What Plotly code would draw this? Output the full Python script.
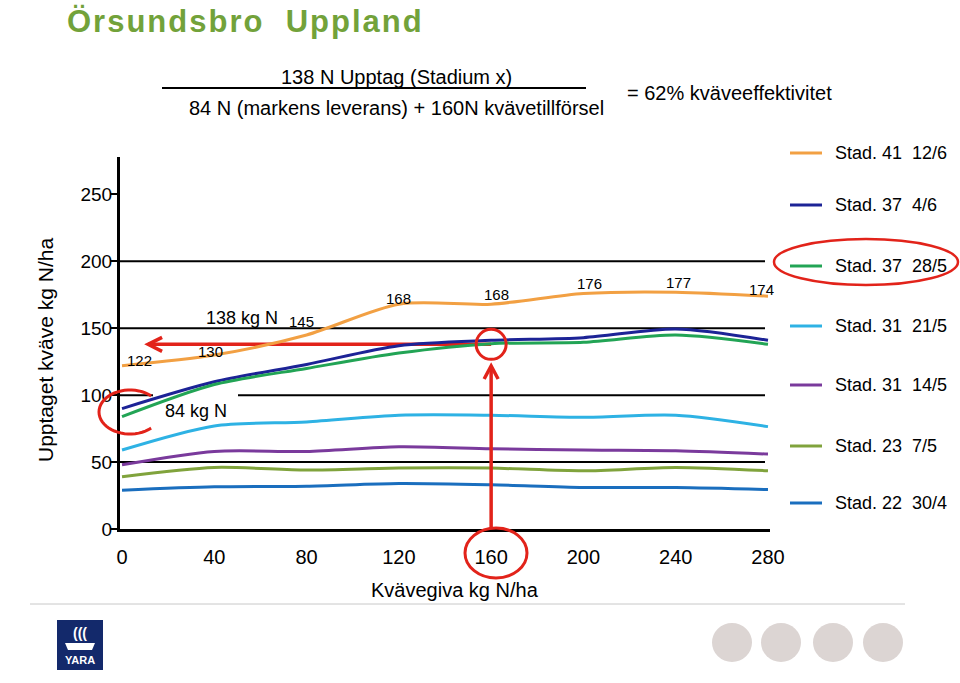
import math
import plotly.graph_objects as go

# ---------------- data ----------------
x_n = [0, 40, 80, 120, 160, 200, 240, 280]
stad41_126 = [122, 130, 145, 168, 168, 176, 177, 174]
stad37_46 = [90, 110, 123, 137, 141, 143, 149.5, 141]
stad37_285 = [84, 108, 120, 131.5, 138.5, 139.5, 145, 138]
stad31_215 = [59, 77, 80, 85, 85, 83.5, 85, 76.5]
stad31_145 = [48, 58, 58, 61.5, 60, 59, 58.5, 56]
stad23_75 = [39, 46, 44, 45.5, 45.5, 43.5, 46, 43.5]
stad22_304 = [29, 31.5, 32, 34, 33, 31, 31, 29.5]

series_names = ["Stad. 41\u00a0 12/6", "Stad. 37\u00a0 4/6", "Stad. 37\u00a0 28/5",
                "Stad. 31\u00a0 21/5", "Stad. 31\u00a0 14/5", "Stad. 23\u00a0 7/5",
                "Stad. 22\u00a0 30/4"]
series_values = [stad41_126, stad37_46, stad37_285, stad31_215, stad31_145,
                 stad23_75, stad22_304]
orange_labels = [122, 130, 145, 168, 168, 176, 177, 174]

y_ticks = [0, 50, 100, 150, 200, 250]
x_ticks = [0, 40, 80, 120, 160, 200, 240, 280]
grid_values = [50, 100, 150, 200]

uptake_n = 138      # kg N taken up
applied_n = 160     # kg N applied
soil_n = 84         # kg N soil supply

# ---------------- styles ----------------
colors = ["#F2A043", "#1C2396", "#22A455", "#2EB2E4", "#7A3A9C", "#80A33C", "#1A6EBE"]
legend_y_px = [153, 205, 266, 326, 385, 446, 503]
label_shift = [(17, 5), (-4, 4), (-5, 13), (0, 6), (5, 10), (6, 10), (3, 10), (-6, 7)]
RED = "#E2231A"
FONT = "Liberation Sans, Arial, sans-serif"

W, H = 960, 683
L, R, T, B = 120, 770, 157, 529


def px(xp):
    return (xp - L) / (R - L)


def py(yp):
    return (B - yp) / (B - T)


fig = go.Figure()
for name, vals, col in zip(series_names, series_values, colors):
    fig.add_trace(go.Scatter(x=x_n, y=vals, mode="lines", name=name,
                             line=dict(color=col, width=3, shape="spline", smoothing=0.8),
                             showlegend=False))

shapes = []
annotations = []

# grid lines
for g in grid_values:
    if g == 100:
        shapes.append(dict(type="line", xref="paper", yref="y", x0=0, x1=px(153), y0=g, y1=g,
                           line=dict(color="black", width=2), layer="below"))
        shapes.append(dict(type="line", xref="paper", yref="y", x0=px(238), x1=px(765), y0=g, y1=g,
                           line=dict(color="black", width=2), layer="below"))
    else:
        shapes.append(dict(type="line", xref="paper", yref="y", x0=0, x1=px(765), y0=g, y1=g,
                           line=dict(color="black", width=2), layer="below"))

# data labels on orange series
for xv, v, lab, (dx, dy) in zip(x_n, stad41_126, orange_labels, label_shift):
    annotations.append(dict(x=xv, y=v, xref="x", yref="y", text=str(lab), showarrow=False,
                            xshift=dx, yshift=dy, font=dict(size=15, color="black", family=FONT)))

# text inside chart
annotations.append(dict(x=px(242), y=py(318), xref="paper", yref="paper", text=f"{uptake_n} kg N",
                        showarrow=False, font=dict(size=18, color="black", family=FONT)))
annotations.append(dict(x=px(196), y=py(411), xref="paper", yref="paper", text=f"{soil_n} kg N",
                        showarrow=False, font=dict(size=18, color="black", family=FONT)))

# red horizontal arrow (uptake)
sx = (R - L) / (281.74)  # px per x unit
sy = (B - T) / 278.0
x_tip = 11.3
shapes.append(dict(type="line", xref="x", yref="y", x0=x_tip, x1=applied_n, y0=uptake_n, y1=uptake_n,
                   line=dict(color=RED, width=3.5), layer="below"))
shapes.append(dict(type="path", xref="x", yref="y",
                   path=f"M {x_tip + 14/sx},{uptake_n + 7/sy} L {x_tip},{uptake_n} L {x_tip + 14/sx},{uptake_n - 7/sy}",
                   line=dict(color=RED, width=3.5)))
# red vertical arrow (applied)
y_tip = 121.8
shapes.append(dict(type="line", xref="x", yref="y", x0=applied_n, x1=applied_n, y0=0, y1=y_tip,
                   line=dict(color=RED, width=3.5)))
shapes.append(dict(type="path", xref="x", yref="y",
                   path=f"M {applied_n - 7/sx},{y_tip - 13/sy} L {applied_n},{y_tip} L {applied_n + 7/sx},{y_tip - 13/sy}",
                   line=dict(color=RED, width=3.5)))
# circle at intersection
shapes.append(dict(type="circle", xref="x", yref="y",
                   x0=applied_n - 15/sx, x1=applied_n + 15/sx,
                   y0=uptake_n - 15/sy, y1=uptake_n + 15/sy,
                   line=dict(color=RED, width=3)))
# ellipse around 160 tick label
shapes.append(dict(type="circle", xref="paper", yref="paper",
                   x0=px(465), x1=px(527), y0=py(578), y1=py(528),
                   line=dict(color=RED, width=3)))
# left arc near y axis
cx, cy, rx, ry = 130, 412, 31, 22
pts = []
for k in range(41):
    th = math.radians(47 + k * (313 - 47) / 40)
    pts.append((px(cx + rx * math.cos(th)), py(cy - ry * math.sin(th))))
arc = "M " + " L ".join(f"{a:.5f},{b:.5f}" for a, b in pts)
shapes.append(dict(type="path", xref="paper", yref="paper", path=arc,
                   line=dict(color=RED, width=3)))

# legend
for name, col, ly in zip(series_names, colors, legend_y_px):
    shapes.append(dict(type="line", xref="paper", yref="paper", x0=px(790), x1=px(822),
                       y0=py(ly), y1=py(ly), line=dict(color=col, width=3)))
    annotations.append(dict(x=px(833), y=py(ly), xref="paper", yref="paper", text=name,
                            xanchor="left", showarrow=False,
                            font=dict(size=18, color="black", family=FONT)))
# ellipse around legend entry
shapes.append(dict(type="circle", xref="paper", yref="paper",
                   x0=px(774), x1=px(958), y0=py(285), y1=py(239),
                   line=dict(color=RED, width=2.5)))

# title
annotations.append(dict(x=px(65), y=py(21), xref="paper", yref="paper",
                        text='<b><span style="letter-spacing:2px">Örsundsbro\u00a0 Uppland</span></b>',
                        xanchor="left", showarrow=False,
                        font=dict(size=31, color="#72A23A", family=FONT)))

# formula
annotations.append(dict(x=px(396), y=py(77), xref="paper", yref="paper",
                        text=f"{uptake_n} N Upptag (Stadium x)", showarrow=False,
                        font=dict(size=20, color="black", family=FONT)))
shapes.append(dict(type="line", xref="paper", yref="paper", x0=px(162), x1=px(586),
                   y0=py(88), y1=py(88), line=dict(color="black", width=2)))
annotations.append(dict(x=px(396), y=py(108), xref="paper", yref="paper",
                        text=f"{soil_n} N (markens leverans) + {applied_n}N kvävetillförsel",
                        showarrow=False, font=dict(size=20, color="black", family=FONT)))
annotations.append(dict(x=px(625), y=py(93), xref="paper", yref="paper",
                        text="= 62% kväveeffektivitet", xanchor="left", showarrow=False,
                        font=dict(size=20, color="black", family=FONT)))

# axis titles
annotations.append(dict(x=px(45), y=py(350), xref="paper", yref="paper",
                        text="Upptaget kväve kg N/ha", textangle=-90, showarrow=False,
                        font=dict(size=21, color="black", family=FONT)))
annotations.append(dict(x=px(455), y=py(590), xref="paper", yref="paper",
                        text="Kvävegiva kg N/ha", showarrow=False,
                        font=dict(size=20, color="black", family=FONT)))

# footer
shapes.append(dict(type="line", xref="paper", yref="paper", x0=px(30), x1=px(905),
                   y0=py(604), y1=py(604), line=dict(color="#C8C8C8", width=1)))
for ccx in [732, 781, 833, 883]:
    shapes.append(dict(type="circle", xref="paper", yref="paper", x0=px(ccx - 20), x1=px(ccx + 20),
                       y0=py(662), y1=py(623), fillcolor="#DCD5D3", line=dict(width=0)))
# YARA logo
shapes.append(dict(type="rect", xref="paper", yref="paper", x0=px(57), x1=px(103),
                   y0=py(670), y1=py(620), fillcolor="#13296B", line=dict(width=0)))
shapes.append(dict(type="path", xref="paper", yref="paper",
                   path=f"M {px(65)},{py(643)} L {px(95)},{py(643)} L {px(92)},{py(650)} L {px(68)},{py(650)} Z",
                   fillcolor="white", line=dict(width=0)))
annotations.append(dict(x=px(80), y=py(633), xref="paper", yref="paper", text="<b>(((</b>",
                        showarrow=False, font=dict(size=14, color="white", family=FONT)))
annotations.append(dict(x=px(80), y=py(660), xref="paper", yref="paper", text="<b>YARA</b>",
                        showarrow=False, font=dict(size=11, color="white", family=FONT)))

for a in annotations:
    a.setdefault("xanchor", "center")
    a.setdefault("yanchor", "middle")

fig.update_layout(
    width=W, height=H,
    margin=dict(l=L, r=W - R, t=T, b=H - B, pad=0),
    paper_bgcolor="white", plot_bgcolor="white",
    showlegend=False,
    font=dict(family=FONT, color="black"),
    shapes=shapes, annotations=annotations,
    xaxis=dict(range=[-0.87, 280.87], tickvals=x_ticks, showgrid=False, zeroline=False,
               showline=True, linecolor="black", linewidth=3, ticks="",
               tickfont=dict(size=20, color="black", family=FONT), ticklabelstandoff=8),
    yaxis=dict(range=[0, 278], tickvals=y_ticks, showgrid=False, zeroline=False,
               showline=True, linecolor="black", linewidth=3, ticks="outside", ticklen=7,
               tickwidth=2, tickcolor="black", ticklabelstandoff=-6,
               tickfont=dict(size=19, color="black", family=FONT)),
)

fig.write_html("out.html")
